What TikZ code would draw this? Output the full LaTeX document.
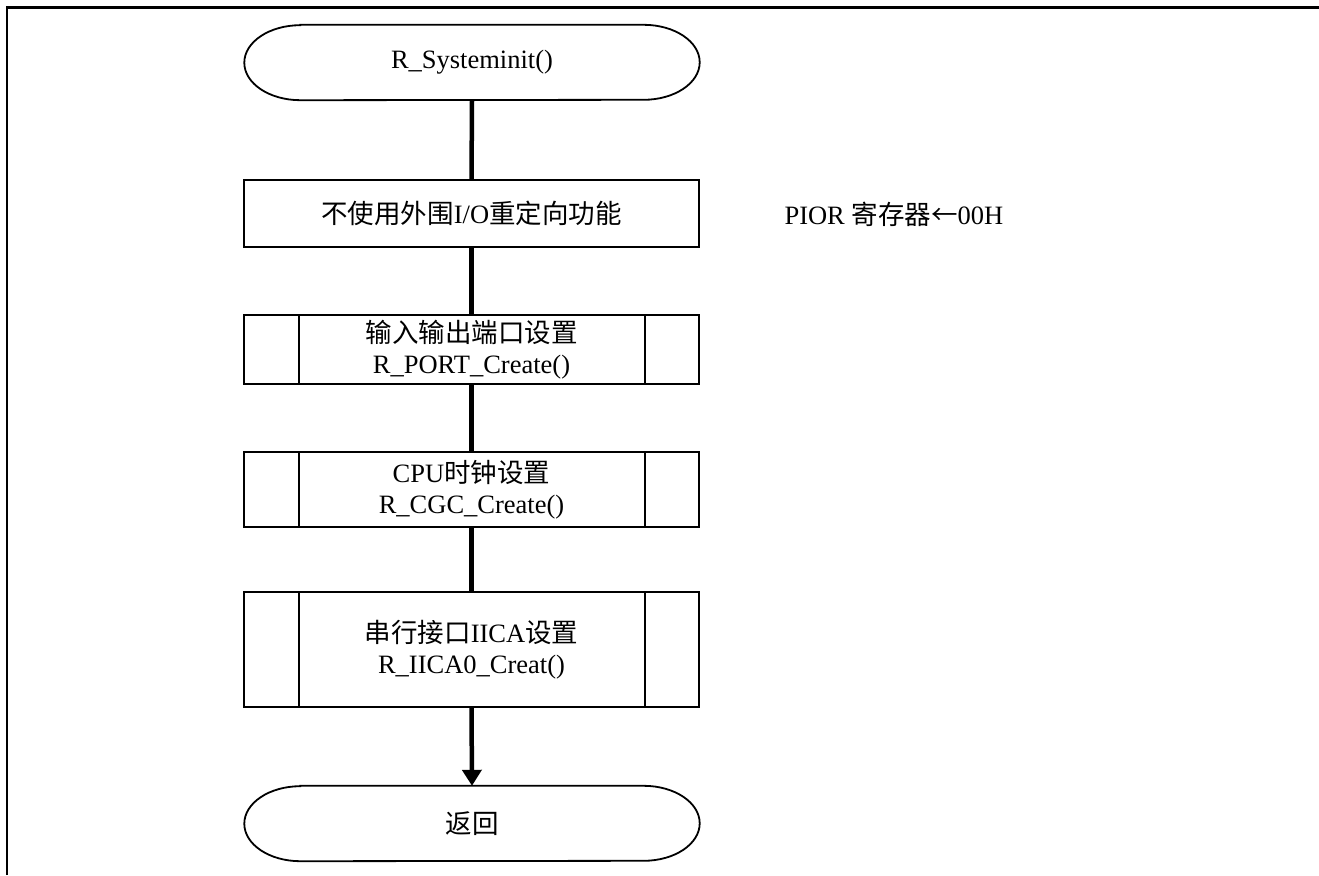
\documentclass[tikz,border=0pt]{standalone}
\usepackage{fontspec}
\setmainfont{Liberation Serif}
\newfontfamily\cjk{Noto Sans CJK SC}
\usetikzlibrary{arrows.meta}
\tikzset{
  txt/.style={font=\fontsize{26.5}{31}\selectfont, align=center},
  procbox/.style={draw, line width=1.8pt, minimum width=455pt, txt, inner sep=0pt},
  subbox/.style={procbox},
  termbox/.style={minimum width=455pt, minimum height=75pt, txt, inner sep=0pt},
  flow/.style={line width=4.5pt},
  frame/.style={line width=2.5pt}
}
\newcommand{\terminal}[1]{%
  \draw[line width=1.8pt] ([xshift=56pt]#1.north west) -- ([xshift=-56pt]#1.north east)
    arc[start angle=90,end angle=-90,x radius=56pt,y radius=37.5pt]
    -- ([xshift=56pt]#1.south west)
    arc[start angle=270,end angle=90,x radius=56pt,y radius=37.5pt] -- cycle;}
\newcommand{\subsides}[1]{%
  \draw[line width=1.8pt] ([xshift=56pt]#1.north west) -- ([xshift=56pt]#1.south west);
  \draw[line width=1.8pt] ([xshift=-55pt]#1.north east) -- ([xshift=-55pt]#1.south east);}
\begin{document}
\begin{tikzpicture}[x=1pt,y=-1pt]
\useasboundingbox (0,0) rectangle (1319,875);
\draw[frame] (7,875) -- (7,7.5) -- (1319,7.5);

\node[termbox] (start) at (472,62.5) {R\_Systeminit()};
\terminal{start}
\node[procbox, minimum height=67pt] (pior) at (471.5,213.5) {{\cjk 不使用外围}I/O{\cjk 重定向功能}};
\node[subbox, minimum height=69pt] (port) at (471.5,349.5) {{\cjk 输入输出端口设置}\\R\_PORT\_Create()};
\subsides{port}
\node[subbox, minimum height=75pt] (cgc) at (471.5,489.5) {CPU{\cjk 时钟设置}\\R\_CGC\_Create()};
\subsides{cgc}
\node[subbox, minimum height=115pt] (iica) at (471.5,649.5) {{\cjk 串行接口}IICA{\cjk 设置}\\R\_IICA0\_Creat()};
\subsides{iica}
\node[termbox] (end) at (472,823.5) {{\cjk 返回}};
\terminal{end}

\node[txt, anchor=west] (note) at (781,214) {PIOR {\cjk 寄存器←}00H};

\draw[flow] (start.south) -- (pior.north);
\draw[flow] (pior.south) -- (port.north);
\draw[flow] (port.south) -- (cgc.north);
\draw[flow] (cgc.south) -- (iica.north);
\draw[flow, -{Triangle[width=19pt,length=16pt]}] (iica.south) -- (end.north);
\end{tikzpicture}
\end{document}
